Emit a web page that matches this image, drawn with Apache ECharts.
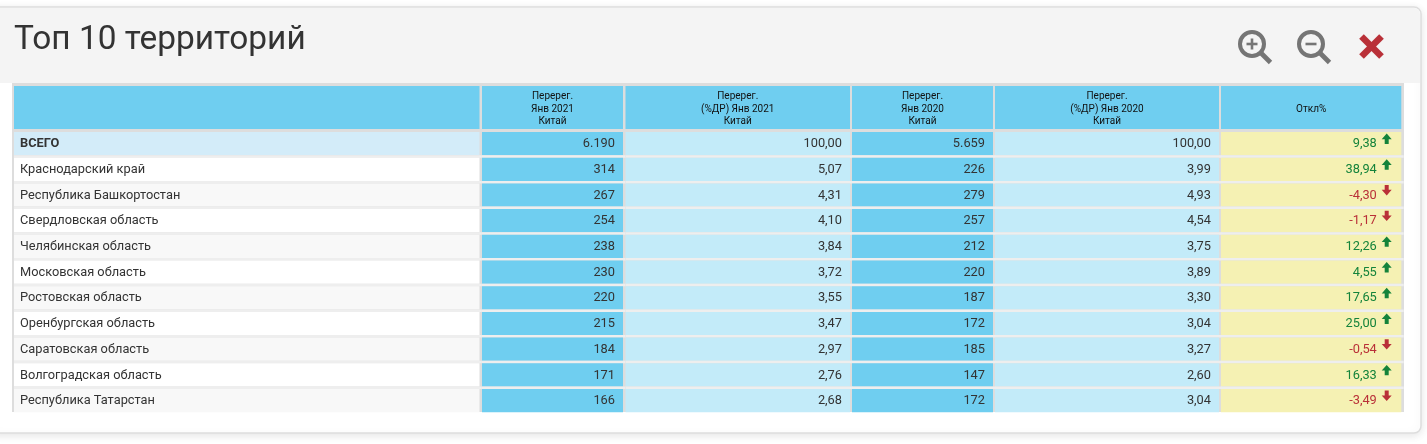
<!DOCTYPE html>
<html>
<head>
<meta charset="utf-8">
<title>Топ 10 территорий</title>
<script src="https://cdn.jsdelivr.net/npm/echarts@6/dist/echarts.min.js"></script>
<style>
html,body{margin:0;padding:0;background:#fff;}
#main{width:1427px;height:444px;}
</style>
</head>
<body>
<div id="main"></div>
<script>
var titleText = 'Топ 10 территорий';
var headers = ['', 'Перерег.\nЯнв 2021\nКитай', 'Перерег.\n(%ДР) Янв 2021\nКитай', 'Перерег.\nЯнв 2020\nКитай', 'Перерег.\n(%ДР) Янв 2020\nКитай', 'Откл%'];
var regions = ['ВСЕГО', 'Краснодарский край', 'Республика Башкортостан', 'Свердловская область', 'Челябинская область', 'Московская область', 'Ростовская область', 'Оренбургская область', 'Саратовская область', 'Волгоградская область', 'Республика Татарстан'];
var reg2021 = [6190, 314, 267, 254, 238, 230, 220, 215, 184, 171, 166];
var share2021 = [100, 5.07, 4.31, 4.10, 3.84, 3.72, 3.55, 3.47, 2.97, 2.76, 2.68];
var reg2020 = [5659, 226, 279, 257, 212, 220, 187, 172, 185, 147, 172];
var share2020 = [100, 3.99, 4.93, 4.54, 3.75, 3.89, 3.30, 3.04, 3.27, 2.60, 3.04];
var deviation = [9.38, 38.94, -4.30, -1.17, 12.26, 4.55, 17.65, 25.00, -0.54, 16.33, -3.49];

// column edges on the hidden x axis
var colLeft = [14, 482, 625.5, 852, 995, 1221];
var colRight = [479.5, 623, 850, 993, 1219, 1401.3];
var rowGap = 2.5;

var blue = '#6fcef0', pale = '#c3ebf9', yellow = '#f5f1b3';
var green = '#14833b', red = '#b93038', grey = '#757575';
var fontName = 'Roboto';

function fmtInt(v) {
	return String(v).replace(/\B(?=(\d{3})+$)/g, '.');
}
function fmtDec(v) {
	return v.toFixed(2).replace('.', ',');
}
function cellText(c, r) {
	if (c == 0) return regions[r];
	if (c == 1) return fmtInt(reg2021[r]);
	if (c == 2) return fmtDec(share2021[r]);
	if (c == 3) return fmtInt(reg2020[r]);
	if (c == 4) return fmtDec(share2020[r]);
	return fmtDec(deviation[r]);
}
function cellFill(c, r) {
	if (c == 0) return r == 0 ? '#d3ecf9' : (r % 2 ? '#ffffff' : '#f8f8f8');
	if (c == 1 || c == 3) return blue;
	if (c == 2 || c == 4) return pale;
	return yellow;
}

function renderBody(params, api) {
	var c = api.value(0), r = api.value(1);
	var left = api.coord([colLeft[c], r]);
	var right = api.coord([colRight[c], r]);
	var band = api.size([0, 1])[1];
	var top = left[1] - band / 2;
	var h = band - rowGap;
	var midY = top + h / 2 + 0.5;
	var children = [];
	if (r > 0) {
		// light strip between body rows
		children.push({type: 'rect', shape: {x: left[0], y: top - rowGap, width: right[0] - left[0] + 2.4, height: rowGap}, style: {fill: '#eeeeee'}});
	}
	children.push({type: 'rect', shape: {x: left[0], y: top, width: right[0] - left[0], height: h}, style: {fill: cellFill(c, r)}});
	var color = '#333333';
	var pad = c == 5 ? 24.5 : 8;
	if (c == 5) {
		color = deviation[r] >= 0 ? green : red;
		var ax = right[0] - 14.6;
		var pts = deviation[r] >= 0
			? [[ax, top + 1.6], [ax + 5, top + 7.2], [ax + 2, top + 7.2], [ax + 2, top + 12], [ax - 2, top + 12], [ax - 2, top + 7.2], [ax - 5, top + 7.2]]
			: [[ax, top + 12], [ax + 5, top + 6.4], [ax + 2, top + 6.4], [ax + 2, top + 1.6], [ax - 2, top + 1.6], [ax - 2, top + 6.4], [ax - 5, top + 6.4]];
		children.push({type: 'polygon', shape: {points: pts}, style: {fill: color}});
	}
	children.push({
		type: 'text',
		style: {
			text: cellText(c, r),
			x: c == 0 ? left[0] + 6 : right[0] - pad,
			y: midY,
			align: c == 0 ? 'left' : 'right',
			verticalAlign: 'middle',
			fill: color,
			font: (c == 0 && r == 0 ? 'bold ' : '') + '12.8px ' + fontName
		}
	});
	return {type: 'group', children: children};
}

function renderHead(params, api) {
	var c = api.value(0);
	var left = api.coord([colLeft[c], 0]);
	var right = api.coord([colRight[c], 0]);
	var h = api.size([0, 1])[1];
	var top = left[1] - h / 2;
	return {
		type: 'group',
		children: [
			{type: 'rect', shape: {x: left[0], y: top, width: right[0] - left[0], height: h}, style: {fill: blue}},
			{type: 'text', style: {
				text: headers[c],
				x: (left[0] + right[0]) / 2,
				y: top + h / 2 + 1.5,
				align: 'center',
				verticalAlign: 'middle',
				fill: '#111111',
				lineHeight: 12.4,
				font: '10px ' + fontName
			}}
		]
	};
}

var bodyCells = [];
regions.forEach(function(name, r) {
	headers.forEach(function(h, c) {
		bodyCells.push([c, r]);
	});
});
var headCells = headers.map(function(h, c) {
	return [c, 0];
});

function magnifier(cx, plus) {
	var parts = [
		{type: 'circle', z: 1, shape: {cx: cx, cy: 44, r: 12}, style: {fill: 'none', stroke: grey, lineWidth: 4}},
		{type: 'line', z: 1, shape: {x1: cx + 9, y1: 53, x2: cx + 18.5, y2: 62.5}, style: {stroke: grey, lineWidth: 4.8}},
		{type: 'line', z: 1, shape: {x1: cx - 5.5, y1: 44, x2: cx + 5.5, y2: 44}, style: {stroke: grey, lineWidth: 2.6}}
	];
	if (plus) {
		parts.push({type: 'line', z: 1, shape: {x1: cx, y1: 38.5, x2: cx, y2: 49.5}, style: {stroke: grey, lineWidth: 2.6}});
	}
	return parts;
}

var chrome = [
	{type: 'rect', z: 0, shape: {x: -10, y: 7, width: 1431, height: 426, r: 7}, style: {fill: '#ffffff', stroke: '#dddddd', lineWidth: 1.5, shadowBlur: 8, shadowColor: 'rgba(0,0,0,0.10)', shadowOffsetY: 2}},
	{type: 'rect', z: 0, shape: {x: -10, y: 8, width: 1430, height: 75, r: [6, 6, 0, 0]}, style: {fill: '#f4f4f4'}},
	{type: 'rect', z: 0, shape: {x: 12, y: 83, width: 1392, height: 329}, style: {fill: '#dddddd'}},
	{type: 'line', z: 1, shape: {x1: 1361.5, y1: 36.5, x2: 1381.5, y2: 56.5}, style: {stroke: red, lineWidth: 6.6}},
	{type: 'line', z: 1, shape: {x1: 1381.5, y1: 36.5, x2: 1361.5, y2: 56.5}, style: {stroke: red, lineWidth: 6.6}}
].concat(magnifier(1252, true), magnifier(1311, false));

var myChart = echarts.init(document.getElementById('main'), null, {renderer: 'canvas'});
var option = {
	animation: false,
	backgroundColor: '#ffffff',
	textStyle: {fontFamily: fontName},
	title: {
		text: titleText,
		left: 14,
		top: 24,
		padding: 0,
		textStyle: {fontFamily: fontName, fontSize: 33.4, fontWeight: 400, color: '#333333'}
	},
	graphic: {elements: chrome},
	grid: [
		{left: 0, right: 0, top: 132, height: 282.7},
		{left: 0, right: 0, top: 86, height: 43}
	],
	xAxis: [
		{type: 'value', gridIndex: 0, min: 0, max: 1427, show: false},
		{type: 'value', gridIndex: 1, min: 0, max: 1427, show: false}
	],
	yAxis: [
		{type: 'category', gridIndex: 0, inverse: true, data: regions, show: false},
		{type: 'category', gridIndex: 1, data: ['head'], show: false}
	],
	series: [
		{
			type: 'custom',
			name: 'head',
			xAxisIndex: 1,
			yAxisIndex: 1,
			clip: false,
			renderItem: renderHead,
			data: headCells
		},
		{
			type: 'custom',
			name: 'body',
			xAxisIndex: 0,
			yAxisIndex: 0,
			clip: false,
			renderItem: renderBody,
			data: bodyCells
		}
	]
};
myChart.setOption(option);
window.onresize = function() {
	myChart.resize();
};
</script>
</body>
</html>
